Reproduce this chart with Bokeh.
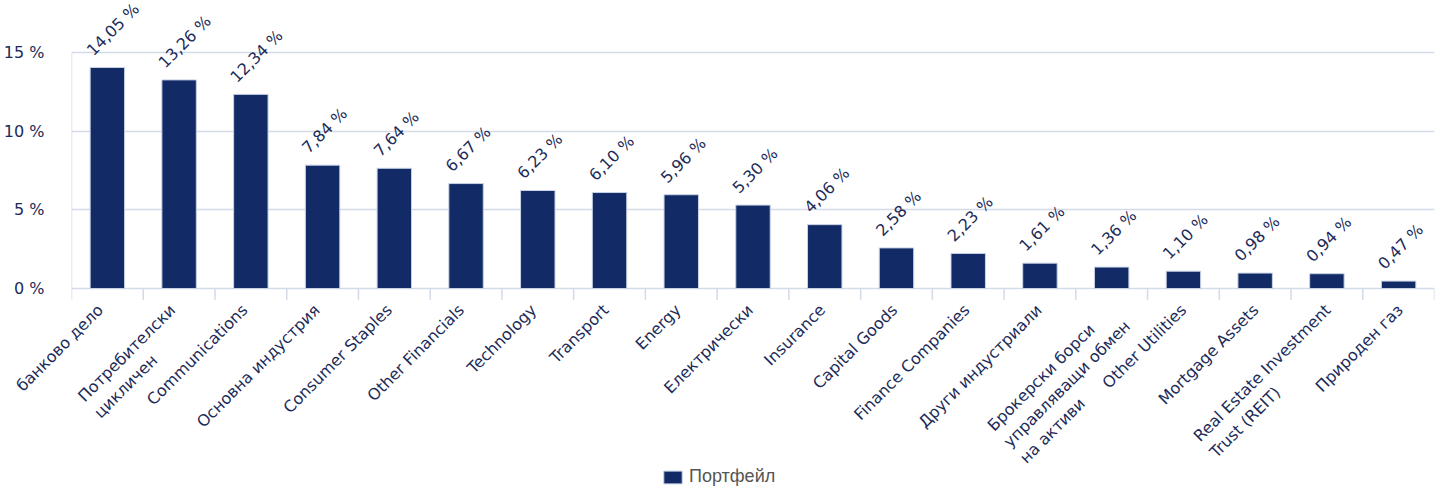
import math
from bokeh.plotting import figure
from bokeh.layouts import column
from bokeh.models import (FactorRange, Range1d, FixedTicker, ColumnDataSource, LabelSet,
                          Legend, LegendItem)
from bokeh.core.properties import value
from bokeh.embed import file_html
from bokeh.resources import INLINE

categories = ["банково дело", "Потребителски\nцикличен", "Communications", "Основна индустрия",
              "Consumer Staples", "Other Financials", "Technology", "Transport", "Energy",
              "Електрически", "Insurance", "Capital Goods", "Finance Companies",
              "Други индустриали", "Брокерски борси\nуправляващи обмен\nна активи",
              "Other Utilities", "Mortgage Assets", "Real Estate Investment\nTrust (REIT)",
              "Природен газ"]
values = [14.05, 13.26, 12.34, 7.84, 7.64, 6.67, 6.23, 6.10, 5.96, 5.30, 4.06, 2.58,
          2.23, 1.61, 1.36, 1.10, 0.98, 0.94, 0.47]
value_labels = [("%.2f %%" % v).replace(".", ",") for v in values]
y_ticks = [0, 5, 10, 15]
y_tick_labels = ["0 %", "5 %", "10 %", "15 %"]
series_name = "Портфейл"

BAR = "#122b66"
TXT = "#1c2b59"
GRID = "#d3dbe9"
FONT = "DejaVu Sans"
FS = "16px"

W = 1436
LEFT, RIGHT = 62, 2
TOP_H, BOT_H = 300, 189
Y_MIN = -0.763   # room for the category boundary ticks below the baseline
Y_MAX = 18.18    # room for the rotated value labels above the top gridline

n = len(categories)
positions = [i + 0.5 for i in range(n)]   # synthetic categorical coordinates
src = ColumnDataSource(dict(cat=categories, val=values, lab=value_labels, pos=positions))

# ---------------- main chart ----------------
p = figure(width=W, height=TOP_H, x_range=FactorRange(*categories, range_padding=0),
           y_range=Range1d(Y_MIN, Y_MAX), output_backend="svg", toolbar_location=None,
           x_axis_location=None, min_border_left=LEFT, min_border_right=RIGHT,
           min_border_top=2, min_border_bottom=0)
p.outline_line_color = None

# category boundary ticks; the first one doubles as the y axis line
bounds = list(range(n + 1))
tops = [y_ticks[-1]] + [0] * n
p.segment(x0=bounds, x1=bounds, y0=tops, y1=[Y_MIN] * len(bounds),
          line_color=GRID, line_width=1.5)

bar_style = dict(width=0.48, fill_color=BAR, line_color="#c8d2e4", line_width=1)
p.vbar(x="cat", top="val", source=src, **bar_style)

p.yaxis.ticker = FixedTicker(ticks=y_ticks)
p.yaxis.major_label_overrides = {t: l for t, l in zip(y_ticks, y_tick_labels)}
p.yaxis.major_tick_line_color = None
p.yaxis.minor_tick_line_color = None
p.yaxis.axis_line_color = None
p.yaxis.major_label_text_font = FONT
p.yaxis.major_label_text_font_size = FS
p.yaxis.major_label_text_color = TXT
p.yaxis.major_label_standoff = 21
p.ygrid.ticker = FixedTicker(ticks=y_ticks)
p.ygrid.grid_line_color = GRID
p.ygrid.grid_line_width = 1.5
p.xgrid.grid_line_color = None

labels = LabelSet(x="cat", y="val", text="lab", source=src, angle=math.pi / 4,
                  text_align="left", text_baseline="bottom", x_offset=-11, y_offset=8,
                  text_font=value(FONT), text_font_size=value(FS), text_color=value(TXT))
p.add_layout(labels)

# ---------------- category labels + legend strip ----------------
can_unalign = hasattr(p, "frame_align")
unit = (W - LEFT - RIGHT) / n
if can_unalign:
    lg_range = Range1d(-LEFT / unit, n + RIGHT / unit)
    legend_x = 661
else:
    lg_range = Range1d(0, n)
    legend_x = 661 - LEFT

lg = figure(width=W, height=BOT_H, x_range=lg_range,
            y_range=Range1d(0, BOT_H), output_backend="svg", toolbar_location=None,
            x_axis_location=None, y_axis_location=None, min_border=0)
lg.grid.grid_line_color = None
lg.outline_line_color = None
if can_unalign:
    p.frame_align = False
    lg.frame_align = False

cat_labels = LabelSet(x="pos", y=BOT_H, text="cat", source=src, angle=math.pi / 4,
                      text_align="right", text_baseline="top", x_offset=-5, y_offset=0,
                      text_font=value(FONT), text_font_size=value(FS), text_color=value(TXT))
lg.add_layout(cat_labels)

# legend swatch renderer: its bars sit on a y range that is never in view
lg.extra_y_ranges = {"hidden": Range1d(1000, 1001)}
lr = lg.vbar(x="pos", top="val", source=src, y_range_name="hidden", **bar_style)
legend = Legend(items=[LegendItem(label=series_name, renderers=[lr])],
                location=(legend_x, 2), orientation="horizontal",
                glyph_width=23, glyph_height=16, label_text_font="Liberation Sans",
                label_text_font_size="18px", label_text_color="#555555",
                background_fill_alpha=0, border_line_color=None, padding=0, margin=0)
lg.add_layout(legend, "center")

page = column(p, lg, spacing=0)
open("out.html", "w").write(file_html(page, INLINE))
